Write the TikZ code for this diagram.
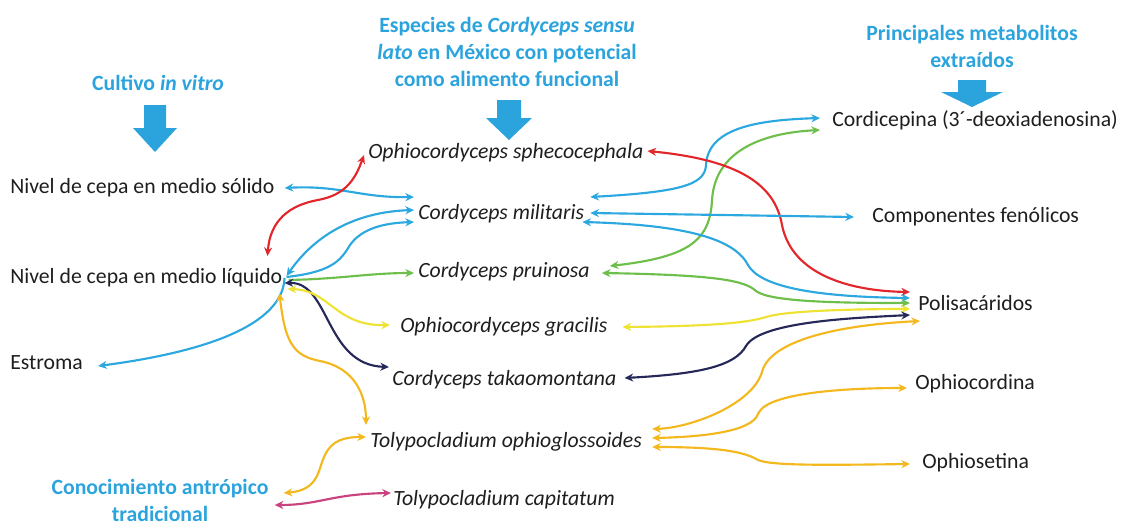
\documentclass[tikz,border=0pt]{standalone}
\usepackage{fontspec}
\setmainfont{Carlito}
\usetikzlibrary{arrows.meta, positioning}
\definecolor{tblue}{HTML}{2BA3DD}
\definecolor{cblue}{HTML}{2CA8E0}
\definecolor{cred}{HTML}{E3262A}
\definecolor{cgreen}{HTML}{6DBE4B}
\definecolor{cyellow}{HTML}{EEE232}
\definecolor{corange}{HTML}{F4B81F}
\definecolor{cnavy}{HTML}{252858}
\definecolor{cmag}{HTML}{C9437E}
\definecolor{txtgray}{HTML}{1E1E1E}
% fat arrow under each heading: x, top, neck, tip, half shaft, half head
\newcommand{\bajada}[6]{%
  \fill[tblue] (#1-#5,#2) -- (#1+#5,#2) -- (#1+#5,#3) -- (#1+#6,#3)
    -- (#1,#4) -- (#1-#6,#3) -- (#1-#5,#3) -- cycle;}
\tikzset{
  item/.style={inner sep=0pt, anchor=west, text=txtgray,
               font=\fontsize{16.3}{20}\selectfont},
  sp/.style={item, font=\fontsize{16.3}{20}\selectfont\itshape},
  head/.style={inner sep=0pt, align=center, text=tblue,
               font=\fontsize{16.3}{20.3}\selectfont\bfseries},
  lnk/.style={{Stealth[length=6.5pt,width=6pt]}-{Stealth[length=6.5pt,width=6pt]},
              line width=1.6pt},
  lnkr/.style={-{Stealth[length=6.5pt,width=6pt]}, line width=1.6pt},
}

\begin{document}
\begin{tikzpicture}[x=0.75pt, y=-0.75pt]
  \useasboundingbox (0,0) rectangle (1122,525);

  % headings
  \node (cult) [head] at (158,83) {Cultivo \textit{in vitro}};
  \node (esp)  [head] at (507,52) {Especies de \textit{Cordyceps sensu}\\
                 \textit{lato} en México con potencial\\como alimento funcional};
  \node (prin) [head] at (972,46) {Principales metabolitos\\extraídos};
  \node (con)  [head] at (160,500) {Conocimiento antrópico\\tradicional};
  \bajada{155}{105}{128}{152}{11}{22}
  \bajada{509}{100}{118}{140}{12}{23}
  \bajada{972}{80}{92}{107}{14}{31}

  % cultivo
  \node (sol) [item] at (10,188) {Nivel de cepa en medio sólido};
  \node (liq) [item] at (10,278) {Nivel de cepa en medio líquido};
  \node (est) [item] at (10,363) {Estroma};

  % especies
  \node (sph) [sp] at (368,153) {Ophiocordyceps sphecocephala};
  \node (mil) [sp] at (418,214) {Cordyceps militaris};
  \node (pru) [sp] at (418,272) {Cordyceps pruinosa};
  \node (gra) [sp] at (400,327) {Ophiocordyceps gracilis};
  \node (tak) [sp] at (392,380) {Cordyceps takaomontana};
  \node (oph) [sp] at (370,442) {Tolypocladium ophioglossoides};
  \node (cap) [sp] at (393,500) {Tolypocladium capitatum};

  % metabolitos
  \node (cdp) [item] at (832,120) {Cordicepina (3´-deoxiadenosina)};
  \node (fen) [item] at (872,217) {Componentes fenólicos};
  \node (pol) [item] at (918,303) {Polisacáridos};
  \node (ocd) [item] at (915,384) {Ophiocordina};
  \node (ost) [item] at (922,463) {Ophiosetina};

  % left side
  \draw[lnk, cblue] ([shift={(10,0)}]sol.east) .. controls (340,185) and (360,198) .. ([shift={(-4,-17)}]mil.west);
  \draw[lnk, cblue] ([shift={(4,-2)}]liq.east) .. controls (315,235) and (355,212) .. ([shift={(-4,-4)}]mil.west);
  \draw[lnkr, cblue] ([shift={(4,-1)}]liq.east) .. controls (330,272) and (340,262) .. (350,245)
    .. controls (362,228) and (385,223) .. ([shift={(-4,8)}]mil.west);
  \draw[lnkr, cgreen] ([shift={(6,2)}]liq.east) .. controls (340,279) and (370,273) .. ([shift={(-4,1)}]pru.west);
  \draw[lnk, cred] ([shift={(-15,-22)}]liq.east) .. controls (270,220) and (290,205) .. (318,200)
    .. controls (345,195) and (355,180) .. ([shift={(-4,2)}]sph.west);
  \draw[lnkr, cblue] ([shift={(2,0)}]liq.east) .. controls (283,320) and (220,350) .. ([shift={(15,3)}]est.east);
  \draw[lnk, cnavy] ([shift={(2,5)}]liq.east) .. controls (330,282) and (325,365) .. ([shift={(-3,-13)}]tak.west);
  \draw[lnk, cyellow] ([shift={(5,11)}]liq.east) .. controls (330,290) and (335,326) .. ([shift={(-10,-2)}]gra.west);
  \draw[lnk, corange] ([shift={(-3,15)}]liq.east) .. controls (285,345) and (295,356) .. (320,361)
    .. controls (355,368) and (366,395) .. ([shift={(-4,-17)}]oph.west);
  \draw[lnk, corange] ([shift={(15,-7)}]con.east) .. controls (320,490) and (318,468) .. (325,455)
    .. controls (332,440) and (345,437) .. ([shift={(-4,-5)}]oph.west);
  \draw[lnk, cmag] ([shift={(6,5)}]con.east) .. controls (320,505) and (330,494) .. ([shift={(-2,-7)}]cap.west);

  % right side
  \draw[lnk, cblue] ([shift={(6,-17)}]mil.east) .. controls (680,192) and (705,185) .. (706,165)
    .. controls (708,127) and (760,120) .. ([shift={(-12,-2)}]cdp.west);
  \draw[lnk, cgreen] ([shift={(20,-6)}]pru.east) .. controls (690,257) and (710,240) .. (712,200)
    .. controls (715,152) and (760,133) .. ([shift={(-12,10)}]cdp.west);
  \draw[lnk, cred] ([shift={(4,-2)}]sph.east) .. controls (740,160) and (775,185) .. (782,225)
    .. controls (792,275) and (850,291) .. ([shift={(-8,-11)}]pol.west);
  \draw[lnk, cblue] ([shift={(6,-1)}]mil.east) -- ([shift={(-18,0)}]fen.west);
  \draw[lnk, cblue] ([shift={(-2,8)}]mil.east) .. controls (690,225) and (735,240) .. (748,265)
    .. controls (762,290) and (830,297) .. ([shift={(-8,-5)}]pol.west);
  \draw[lnk, cgreen] ([shift={(12,1)}]pru.east) .. controls (720,275) and (745,281) .. (756,291)
    .. controls (770,302) and (840,303) .. ([shift={(-8,0)}]pol.west);
  \draw[lnk, cyellow] ([shift={(15,0)}]gra.east) .. controls (740,326) and (755,320) .. (770,316)
    .. controls (790,311) and (850,309) .. ([shift={(-8,6)}]pol.west);
  \draw[lnk, cnavy] ([shift={(8,-2)}]tak.east) .. controls (700,374) and (735,366) .. (746,346)
    .. controls (760,322) and (850,318) .. ([shift={(-8,12)}]pol.west);
  \draw[lnk, corange] ([shift={(2,18)}]pol.west) .. controls (840,325) and (770,340) .. (762,372)
    .. controls (752,405) and (690,428) .. ([shift={(10,-13)}]oph.east);
  \draw[lnk, corange] ([shift={(10,-4)}]oph.east) .. controls (700,437) and (752,432) .. (758,414)
    .. controls (765,395) and (830,388) .. ([shift={(-8,4)}]ocd.west);
  \draw[lnk, corange] ([shift={(10,5)}]oph.east) .. controls (720,447) and (745,452) .. (758,460)
    .. controls (772,466) and (830,465) .. ([shift={(-12,1)}]ost.west);
\end{tikzpicture}
\end{document}
